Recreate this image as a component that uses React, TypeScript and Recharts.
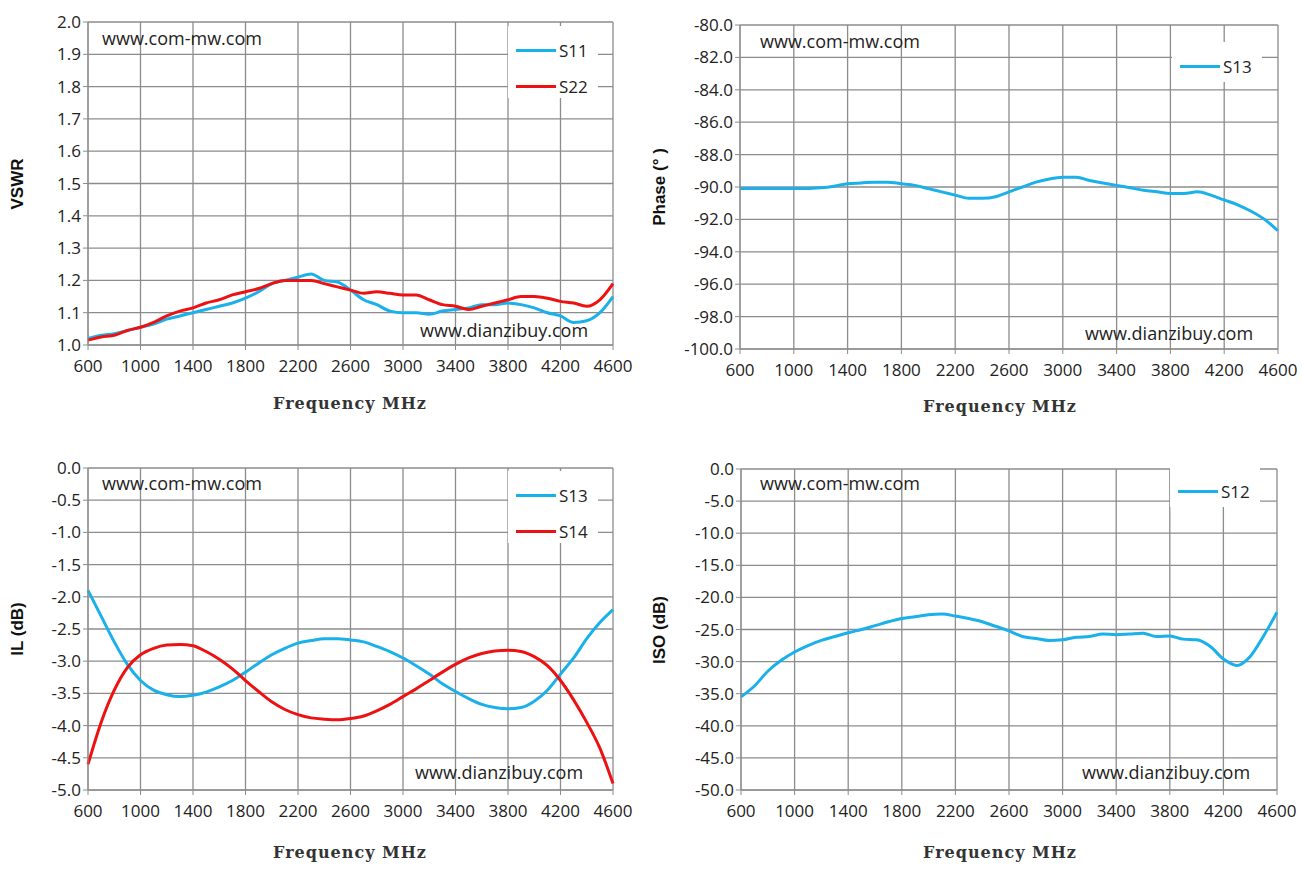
import React from 'react';
import { LineChart, Line, XAxis, YAxis, CartesianGrid } from 'recharts';

const freq = [600,700,800,900,1000,1100,1200,1300,1400,1500,1600,1700,1800,1900,2000,2100,2200,2300,2400,2500,2600,2700,2800,2900,3000,3100,3200,3300,3400,3500,3600,3700,3800,3900,4000,4100,4200,4300,4400,4500,4600];
const xTicks = [600,1000,1400,1800,2200,2600,3000,3400,3800,4200,4600];

const vswrS11 = [1.02,1.03,1.035,1.045,1.055,1.065,1.08,1.09,1.1,1.11,1.12,1.13,1.145,1.165,1.19,1.2,1.21,1.22,1.2,1.195,1.17,1.14,1.125,1.105,1.1,1.1,1.095,1.105,1.11,1.115,1.125,1.125,1.13,1.125,1.115,1.1,1.09,1.07,1.075,1.1,1.15];
const vswrS22 = [1.015,1.025,1.03,1.045,1.055,1.07,1.09,1.105,1.115,1.13,1.14,1.155,1.165,1.175,1.19,1.2,1.2,1.2,1.19,1.18,1.17,1.16,1.165,1.16,1.155,1.155,1.14,1.125,1.12,1.11,1.12,1.13,1.14,1.15,1.15,1.145,1.135,1.13,1.12,1.14,1.19];
const phaseS13 = [-90.1,-90.1,-90.1,-90.1,-90.1,-90.1,-90.05,-89.95,-89.8,-89.75,-89.7,-89.7,-89.8,-89.9,-90.1,-90.3,-90.5,-90.7,-90.7,-90.6,-90.3,-90,-89.7,-89.5,-89.4,-89.4,-89.6,-89.75,-89.9,-90.05,-90.2,-90.3,-90.4,-90.4,-90.3,-90.5,-90.8,-91.1,-91.5,-92,-92.7];
const ilS13 = [-1.9,-2.3,-2.7,-3.05,-3.3,-3.45,-3.52,-3.55,-3.53,-3.48,-3.4,-3.3,-3.17,-3.03,-2.9,-2.8,-2.72,-2.68,-2.65,-2.65,-2.67,-2.7,-2.77,-2.85,-2.95,-3.07,-3.2,-3.35,-3.47,-3.58,-3.67,-3.72,-3.74,-3.72,-3.62,-3.45,-3.2,-2.95,-2.65,-2.4,-2.2];
const ilS14 = [-4.6,-3.95,-3.45,-3.1,-2.9,-2.8,-2.75,-2.74,-2.76,-2.85,-2.97,-3.12,-3.3,-3.47,-3.63,-3.75,-3.83,-3.88,-3.9,-3.91,-3.89,-3.85,-3.77,-3.67,-3.55,-3.43,-3.3,-3.17,-3.05,-2.95,-2.88,-2.84,-2.83,-2.85,-2.93,-3.07,-3.3,-3.6,-3.95,-4.35,-4.9];
const isoS12 = [-35.5,-33.8,-31.5,-29.8,-28.5,-27.5,-26.7,-26.1,-25.5,-25,-24.4,-23.8,-23.3,-23,-22.7,-22.6,-22.9,-23.3,-23.8,-24.5,-25.2,-26.1,-26.4,-26.7,-26.6,-26.2,-26.1,-25.7,-25.8,-25.7,-25.6,-26.1,-26,-26.5,-26.6,-27.6,-29.6,-30.6,-29.2,-26,-22.3];

const vswrTicks = [1.0,1.1,1.2,1.3,1.4,1.5,1.6,1.7,1.8,1.9,2.0];
const phaseTicks = [-100,-98,-96,-94,-92,-90,-88,-86,-84,-82,-80];
const ilTicks = [-5,-4.5,-4,-3.5,-3,-2.5,-2,-1.5,-1,-0.5,0];
const isoTicks = [-50,-45,-40,-35,-30,-25,-20,-15,-10,-5,0];

const BLUE = '#1AB0EA';
const RED = '#EE1111';
const GRID = '#8C8C8C';
const FONT = '"Open Sans", "Liberation Sans", sans-serif';

const vswrData = freq.map((f, i) => ({ f, s11: vswrS11[i], s22: vswrS22[i] }));
const phaseData = freq.map((f, i) => ({ f, s13: phaseS13[i] }));
const ilData = freq.map((f, i) => ({ f, s13: ilS13[i], s14: ilS14[i] }));
const isoData = freq.map((f, i) => ({ f, s12: isoS12[i] }));

type Series = { key: string; name: string; color: string };

function Panel(props: {
  left: number; top: number; data: any[]; series: Series[]; yTicks: number[]; yLabel: string;
  margin: { top: number; right: number; bottom: number; left: number };
  legend: { x: number; y: number; w: number; h: number };
  mark1: { x: number; y: number }; mark2: { x: number; y: number };
  xLabelY: number; yLabelX: number;
}) {
  const { left, top, data, series, yTicks, yLabel, margin, legend, mark1, mark2 } = props;
  return (
    <div style={{ position: 'absolute', left, top, width: 650, height: 435, fontFamily: FONT }}>
      <LineChart width={650} height={435} data={data} margin={margin}>
        <CartesianGrid stroke={GRID} strokeWidth={1.3} />
        <XAxis dataKey="f" type="number" domain={[600, 4600]} ticks={xTicks} interval={0}
          stroke={GRID} tick={{ fill: '#222', fontSize: 17, dy: 8 }} tickSize={5} height={30} />
        <YAxis type="number" domain={[yTicks[0], yTicks[yTicks.length - 1]]} ticks={yTicks} interval={0}
          stroke={GRID} tick={{ fill: '#222', fontSize: 17 }} tickSize={5} width={60}
          tickFormatter={(v: number) => v.toFixed(1)} />
        {series.map(s => (
          <Line key={s.key} dataKey={s.key} stroke={s.color} strokeWidth={3} dot={false}
            type="monotone" isAnimationActive={false} />
        ))}
      </LineChart>
      <div style={{ position: 'absolute', left: legend.x, top: legend.y, width: legend.w, height: legend.h, background: '#fff' }}>
        {series.map((s, i) => (
          <div key={s.key} style={{ display: 'flex', alignItems: 'center', height: 36, paddingTop: i === 0 ? 6 : 0 }}>
            <div style={{ width: 40, height: 3, background: s.color, marginLeft: 8, marginRight: 3 }} />
            <span style={{ fontSize: 17, color: '#222' }}>{s.name}</span>
          </div>
        ))}
      </div>
      <div style={{ position: 'absolute', left: mark1.x, top: mark1.y, fontSize: 18, color: '#222' }}>www.com-mw.com</div>
      <div style={{ position: 'absolute', left: mark2.x, top: mark2.y, fontSize: 18, color: '#222' }}>www.dianzibuy.com</div>
      <div style={{ position: 'absolute', left: 0, width: 700, textAlign: 'center', top: props.xLabelY,
        fontFamily: '"DejaVu Serif", serif', fontWeight: 'bold', fontSize: 16, color: '#333', letterSpacing: 1 }}>
        Frequency MHz
      </div>
      <div style={{ position: 'absolute', left: props.yLabelX, top: (margin.top + 435 - margin.bottom - 30) / 2,
        transform: 'translate(-50%, -50%) rotate(-90deg)', fontWeight: 'bold', fontSize: 17, color: '#111', whiteSpace: 'nowrap',
        fontFamily: '"Liberation Sans", Arial, sans-serif' }}>
        {yLabel}
      </div>
    </div>
  );
}

export default function App() {
  return (
    <div style={{ position: 'absolute', left: 0, top: 0, width: 1302, height: 870, background: '#fff' }}>
      <Panel left={0} top={0} data={vswrData} yTicks={vswrTicks} yLabel="VSWR"
        series={[{ key: 's11', name: 'S11', color: BLUE }, { key: 's22', name: 'S22', color: RED }]}
        margin={{ top: 22, right: 37, bottom: 60, left: 28 }}
        legend={{ x: 508, y: 26, w: 90, h: 72 }} mark1={{ x: 102, y: 26 }} mark2={{ x: 420, y: 318 }}
        xLabelY={394} yLabelX={18} />
      <Panel left={650} top={0} data={phaseData} yTicks={phaseTicks} yLabel="Phase (° )"
        series={[{ key: 's13', name: 'S13', color: BLUE }]}
        margin={{ top: 25, right: 22, bottom: 56, left: 30 }}
        legend={{ x: 522, y: 42, w: 90, h: 40 }} mark1={{ x: 110, y: 29 }} mark2={{ x: 435, y: 321 }}
        xLabelY={397} yLabelX={10} />
      <Panel left={0} top={435} data={ilData} yTicks={ilTicks} yLabel="IL (dB)"
        series={[{ key: 's13', name: 'S13', color: BLUE }, { key: 's14', name: 'S14', color: RED }]}
        margin={{ top: 33, right: 37, bottom: 50, left: 28 }}
        legend={{ x: 508, y: 36, w: 90, h: 72 }} mark1={{ x: 102, y: 36 }} mark2={{ x: 415, y: 325 }}
        xLabelY={408} yLabelX={18} />
      <Panel left={650} top={435} data={isoData} yTicks={isoTicks} yLabel="ISO (dB)"
        series={[{ key: 's12', name: 'S12', color: BLUE }]}
        margin={{ top: 34, right: 23, bottom: 50, left: 31 }}
        legend={{ x: 520, y: 32, w: 90, h: 40 }} mark1={{ x: 110, y: 36 }} mark2={{ x: 432, y: 325 }}
        xLabelY={408} yLabelX={10} />
    </div>
  );
}
